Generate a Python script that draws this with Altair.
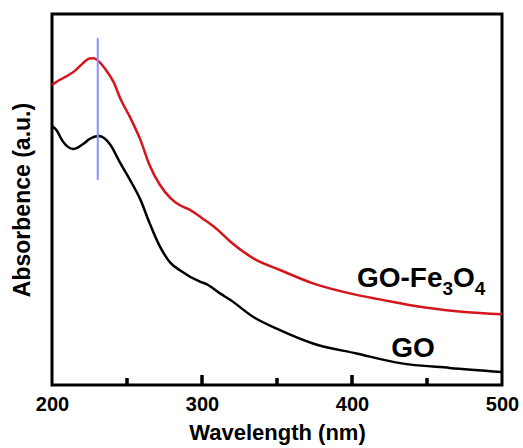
import altair as alt
import pandas as pd

# GO-Fe3O4 spectrum (wavelength nm, absorbance a.u.)
wl_fe = [200, 205, 210, 215, 220, 225, 228, 231, 236, 241, 246, 252, 259, 265, 272,
         279, 285, 292, 301, 310, 319, 334, 352, 374, 403, 425, 450, 475, 500]
abs_fe = [0.809, 0.822, 0.833, 0.846, 0.865, 0.880, 0.881, 0.873, 0.849, 0.817, 0.768,
          0.722, 0.660, 0.593, 0.539, 0.504, 0.485, 0.472, 0.447, 0.420, 0.386, 0.342,
          0.310, 0.274, 0.243, 0.226, 0.208, 0.197, 0.191]

# GO spectrum
wl_go = [200, 203, 207, 210, 214, 218, 221, 225, 231, 239, 245, 252, 259, 265, 272,
         279, 285, 299, 303, 312, 319, 334, 352, 374, 403, 432, 465, 500]
abs_go = [0.698, 0.687, 0.658, 0.644, 0.636, 0.642, 0.650, 0.663, 0.671, 0.647, 0.602,
          0.553, 0.499, 0.437, 0.373, 0.329, 0.310, 0.278, 0.272, 0.247, 0.229, 0.184,
          0.148, 0.112, 0.085, 0.059, 0.046, 0.035]

# vertical marker at the peak
marker_wl = [230.5]
marker_lo = [0.553]
marker_hi = [0.935]

x_tick_labels = [200, 300, 400, 500]
major_ticks = [300, 400]
minor_ticks = [250, 350, 450]

FONT = "Liberation Sans"
W, H = 450, 371
FS = 28      # label font size
SFS = 19     # subscript font size

fe_df = pd.DataFrame({"wl": wl_fe, "a": abs_fe})
go_df = pd.DataFrame({"wl": wl_go, "a": abs_go})
mk_df = pd.DataFrame({"wl": marker_wl, "lo": marker_lo, "hi": marker_hi})
major_df = pd.DataFrame({"wl": major_ticks})
minor_df = pd.DataFrame({"wl": minor_ticks})

xscale = alt.Scale(domain=[200, 500], nice=False, zero=False)
yscale = alt.Scale(domain=[0, 1], nice=False)

xaxis = alt.Axis(values=x_tick_labels, title="Wavelength (nm)", format="d",
                 labelFont=FONT, labelFontSize=20, labelFontWeight="bold", labelColor="black",
                 titleFont=FONT, titleFontSize=22, titleFontWeight="bold", titleColor="black",
                 ticks=False, domain=False, grid=False, labelPadding=9, titlePadding=8,
                 labelFlush=False, labelOverlap=False)
yaxis = alt.Axis(title="Absorbence (a.u.)", labels=False, ticks=False, domain=False, grid=False,
                 titleFont=FONT, titleFontSize=23, titleFontWeight="bold", titleColor="black",
                 titlePadding=18)

X = alt.X("wl:Q", scale=xscale)
Y = alt.Y("a:Q", scale=yscale)

fe_line = alt.Chart(fe_df).mark_line(color="#d4161c", strokeWidth=2.5, interpolate="monotone").encode(
    x=alt.X("wl:Q", scale=xscale, axis=xaxis), y=alt.Y("a:Q", scale=yscale, axis=yaxis))
go_line = alt.Chart(go_df).mark_line(color="black", strokeWidth=2.5, interpolate="monotone").encode(
    x=X, y=Y)

marker = alt.Chart(mk_df).mark_rule(color="#8c8cff", strokeWidth=2).encode(
    x=X, y=alt.Y("lo:Q", scale=yscale), y2="hi:Q")

major = alt.Chart(major_df).mark_rule(color="black", strokeWidth=3.5).encode(
    x=X, y=alt.value(H), y2=alt.value(H - 10))
minor = alt.Chart(minor_df).mark_rule(color="black", strokeWidth=3.5).encode(
    x=X, y=alt.value(H), y2=alt.value(H - 7))

# label anchors (data space)
fe_lab_df = pd.DataFrame({"wl": [403.3], "a": [0.265]})
go_lab_df = pd.DataFrame({"wl": [440.7], "a": [0.076]})

w_main = 3.056 * FS
w_sub = 0.556 * SFS
w_O = 0.778 * FS

def piece(text, dx, size, dy=0):
    return alt.Chart(fe_lab_df).mark_text(
        text=text, font=FONT, fontSize=size, fontWeight="bold", color="black",
        align="left", baseline="alphabetic", dx=dx, dy=dy).encode(x=X, y=Y)

fe_label = alt.layer(
    piece("GO-Fe", 0, FS),
    piece("3", w_main, SFS, 8),
    piece("O", w_main + w_sub, FS),
    piece("4", w_main + w_sub + w_O, SFS, 8),
)
go_label = alt.Chart(go_lab_df).mark_text(text="GO", font=FONT, fontSize=FS, fontWeight="bold",
                                          color="black", align="center",
                                          baseline="alphabetic").encode(x=X, y=Y)

chart = alt.layer(fe_line, go_line, marker, fe_label, go_label, major, minor).properties(
    width=W, height=H,
    autosize=alt.AutoSizeParams(type="none"),
    padding={"left": 52, "top": 14, "right": 21, "bottom": 63},
    background="white",
).configure_view(stroke="black", strokeWidth=3)

chart.save("out.html", embed_options={"renderer": "svg", "actions": False})
